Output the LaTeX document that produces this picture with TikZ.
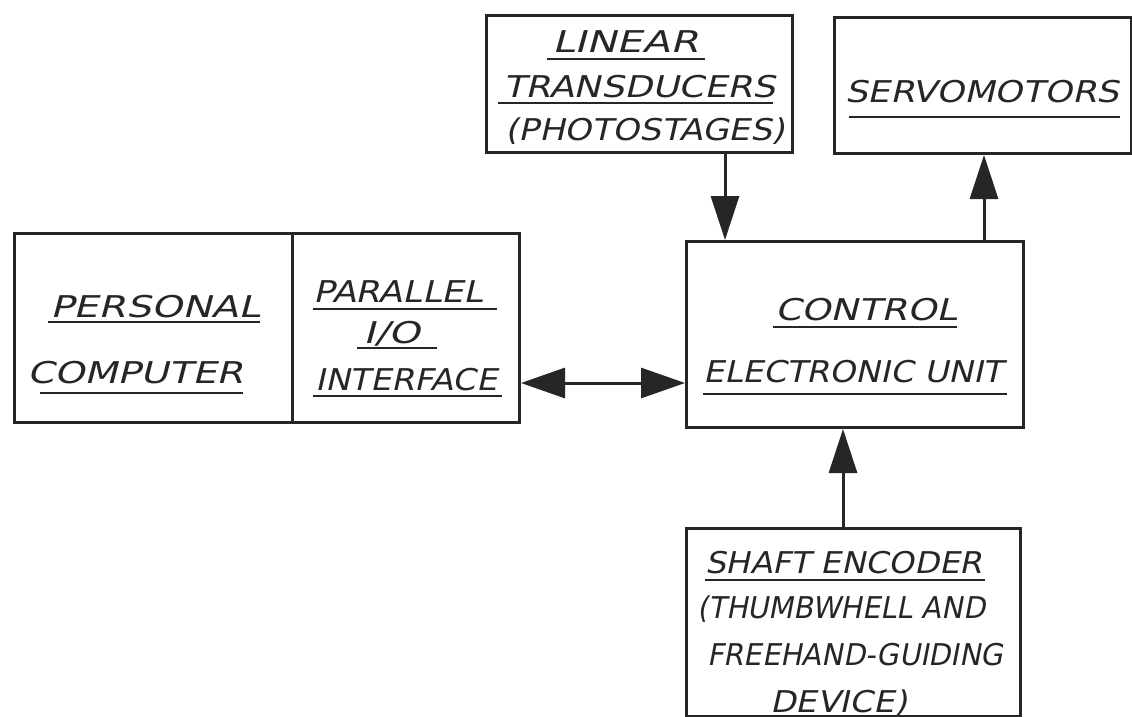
\documentclass[tikz,border=0pt]{standalone}
\usepackage{fontspec}
\usetikzlibrary{arrows.meta}
\newfontfamily\handfont[FakeSlant=0.2]{DejaVu Sans}
\newcommand\fitw[2]{\resizebox{#1pt}{\height}{#2}}
\begin{document}
\begin{tikzpicture}[x=1pt,y=-1pt,
  ink/.style={draw=black!85, line width=3pt},
  box/.style={ink, rectangle, inner sep=0pt, anchor=north west},
  txt/.style={anchor=base west, inner sep=0pt, text=black!85, font=\handfont\fontsize{30}{34}\selectfont},
  uline/.style={draw=black!85, line width=2.6pt},
  arr/.style={ink, -{Triangle[length=44pt,width=28pt]}},
  darr/.style={ink, {Triangle[length=44pt,width=30pt]}-{Triangle[length=44pt,width=30pt]}},
]
\useasboundingbox (0,0) rectangle (1132,717);
\fill[white] (0,0) rectangle (1132,717);

% boxes
\node[box, minimum width=278pt, minimum height=189pt] (pc) at (13,232) {};
\node[box, minimum width=227pt, minimum height=189pt] (pio) at (291,232) {};
\node[box, minimum width=337pt, minimum height=186pt] (ctrl) at (685,240) {};
\node[box, minimum width=306pt, minimum height=137pt] (lin) at (485,14) {};
\node[box, minimum width=297pt, minimum height=136pt] (servo) at (833,16) {};
\node[box, minimum width=334pt, minimum height=188pt] (enc) at (685,527) {};

% connectors
\draw[arr] ([xshift=240pt]lin.south west) -- ([xshift=40pt]ctrl.north west);
\draw[arr] ([xshift=299pt]ctrl.north west) -- ([xshift=151pt]servo.south west);
\draw[arr] ([xshift=158pt]enc.north west) -- ([xshift=158pt]ctrl.south west);
\coordinate (ay) at (600,383);
\draw[darr] (pio.east |- ay) -- (ctrl.west |- ay);

% texts
\node[txt] (t1) at (50,317) {\fitw{210}{PERSONAL}};
\draw[uline] (48,322) -- (260,322);
\node[txt] (t2) at (27,383) {\fitw{216}{COMPUTER}};
\draw[uline] (40,393) -- (243,393);

\node[txt] (t3) at (313,302) {\fitw{170}{PARALLEL}};
\draw[uline] (313,309) -- (497,309);
\node[txt] (t4) at (363,343) {\fitw{57}{I/O}};
\draw[uline] (357,348) -- (437,348);
\node[txt] (t5) at (315,390) {\fitw{182}{INTERFACE}};
\draw[uline] (313,396) -- (502,396);

\node[txt] (t6) at (552,53) {\fitw{146}{LINEAR}};
\draw[uline] (547,59) -- (705,59);
\node[txt] (t7) at (503,97) {\fitw{272}{TRANSDUCERS}};
\draw[uline] (498,103) -- (773,103);
\node[txt] (t8) at (505,140) {\fitw{280}{(PHOTOSTAGES)}};

\node[txt] (t9) at (845,102) {\fitw{274}{SERVOMOTORS}};
\draw[uline] (849,117) -- (1120,117);

\node[txt] (t10) at (775,320) {\fitw{182}{CONTROL}};
\draw[uline] (773,327) -- (957,327);
\node[txt] (t11) at (703,382) {\fitw{300}{ELECTRONIC UNIT}};
\draw[uline] (703,394) -- (1007,394);

\node[txt] (t12) at (705,573) {\fitw{277}{SHAFT ENCODER}};
\draw[uline] (705,580) -- (985,580);
\node[txt] (t13) at (697,618) {\fitw{288}{(THUMBWHELL AND}};
\node[txt] (t14) at (707,665) {\fitw{296}{FREEHAND-GUIDING}};
\node[txt] (t15) at (770,712) {\fitw{137}{DEVICE)}};
\end{tikzpicture}
\end{document}
